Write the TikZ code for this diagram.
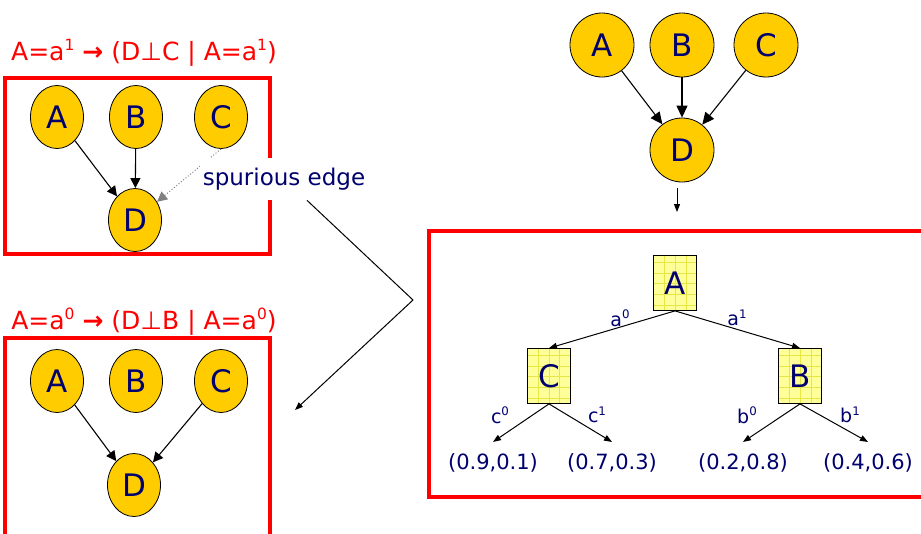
\documentclass[tikz,border=0pt]{standalone}
\usepackage{fontspec}
\setmainfont{DejaVu Sans}
\usetikzlibrary{shapes.geometric,arrows.meta,positioning,calc}
\definecolor{NodeGold}{RGB}{255,204,0}
\definecolor{LeafYellow}{RGB}{255,255,153}
\definecolor{GridYellow}{RGB}{230,230,70}
\definecolor{TextNavy}{RGB}{0,0,110}
\definecolor{BoxRed}{RGB}{255,0,0}
\newcommand{\supr}[1]{\raisebox{0.4em}{\scalebox{0.62}{#1}}}

\tikzset{
  bnnode/.style={ellipse, draw=black, fill=NodeGold, line width=0.8pt, inner sep=0pt,
    minimum width=53pt, minimum height=63pt, text=TextNavy, font=\fontsize{31}{31}\selectfont},
  bigcirc/.style={circle, draw=black, fill=NodeGold, line width=0.8pt, inner sep=0pt,
    minimum size=64pt, text=TextNavy, font=\fontsize{31}{31}\selectfont},
  treebox/.style={rectangle, draw=black, fill=LeafYellow, line width=0.8pt, inner sep=0pt,
    minimum width=43pt, minimum height=55pt, text=TextNavy, font=\fontsize{31}{31}\selectfont,
    path picture={\draw[GridYellow, line width=0.5pt] (path picture bounding box.south west)
      grid[step=10.75pt] (path picture bounding box.north east);}},
  leaf/.style={text=TextNavy, font=\fontsize{21}{21}\selectfont, inner xsep=2pt, inner ysep=11.5pt},
  branch/.style={text=TextNavy, font=\fontsize{19}{19}\selectfont, inner sep=0pt},
  ctxtitle/.style={text=BoxRed, font=\fontsize{25}{25}\selectfont},
  redbox/.style={draw=BoxRed, line width=3.5pt},
  dep/.style={line width=1.1pt, -{Triangle[length=10pt,width=10pt]}},
  bigdep/.style={line width=1.1pt, -{Triangle[length=12pt,width=11pt]}},
  smalldep/.style={line width=1pt, -{Triangle[length=8pt,width=6pt]}}
}

\begin{document}
\begin{tikzpicture}[x=1pt, y=-1pt]
  \useasboundingbox (0,0) rectangle (921,533);
  \clip (0,0) rectangle (921,533);

  % Context A=a^1 (top left)
  \node[ctxtitle] (title1) at (144,53) {A=a\supr{1} {\bfseries →} (D⊥C | A=a\supr{1})};
  \draw[redbox] (5,78) rectangle (270,254);
  \node[bnnode] (tlA) at (57,117) {A};
  \node[bnnode] (tlB) at (136,117) {B};
  \node[bnnode] (tlC) at (221,117) {C};
  \node[bnnode] (tlD) at (135,220) {D};
  \draw[dep] (tlA) -- (tlD);
  \draw[dep] (tlB) -- (tlD);
  \draw[gray, dotted, line width=1pt, -{Triangle[length=10pt,width=10pt]}] (tlC.south) -- (tlD);

  % Spurious edge label
  \node[fill=white, text=TextNavy, font=\fontsize{23}{23}\selectfont, inner xsep=3pt, inner ysep=10pt]
    (spur) at (284,179) {spurious edge};

  % Context A=a^0 (bottom left)
  \node[ctxtitle] (title0) at (144,322) {A=a\supr{0} {\bfseries →} (D⊥B | A=a\supr{0})};
  \draw[redbox] (5,338) rectangle (270,545);
  \node[bnnode] (blA) at (57,381) {A};
  \node[bnnode] (blB) at (136,381) {B};
  \node[bnnode] (blC) at (221,381) {C};
  \node[bnnode] (blD) at (134,485) {D};
  \draw[dep] (blA) -- (blD);
  \draw[dep] (blC) -- (blD);

  % Connector from label to bottom context
  \coordinate (bend) at (413,300);
  \coordinate (spurend) at (295,410);
  \draw[line width=1pt, -{Triangle[length=8pt,width=6pt]}] ([xshift=23pt]spur.south) -- (bend) -- (spurend);

  % Full network (top right)
  \node[bigcirc] (trA) at (602,45) {A};
  \node[bigcirc] (trB) at (682,45) {B};
  \node[bigcirc] (trC) at (766,45) {C};
  \node[bigcirc] (trD) at (682,150) {D};
  \draw[bigdep] (trA) -- (trD);
  \draw[bigdep] (trB) -- (trD);
  \draw[bigdep] (trC) -- (trD);
  \coordinate (down) at (677,212);
  \draw[smalldep] ([shift={(-5,6)}]trD.south) -- (down);

  % Tree CPD box
  \draw[redbox] (429,231) rectangle (940,497);
  \node[treebox] (tA) at (675,283) {A};
  \node[treebox] (tC) at (549,376) {C};
  \node[treebox] (tB) at (800,376) {B};
  \draw[smalldep] (tA.south) -- (tC.north);
  \draw[smalldep] (tA.south) -- (tB.north);
  \node[branch] (ba0) at (620,318) {a\supr{0}};
  \node[branch] (ba1) at (737,318) {a\supr{1}};

  % Leaves
  \node[leaf] (l1) at (493,463) {(0.9,0.1)};
  \node[leaf] (l2) at (612,463) {(0.7,0.3)};
  \node[leaf] (l3) at (743,463) {(0.2,0.8)};
  \node[leaf] (l4) at (868,463) {(0.4,0.6)};
  \draw[smalldep] (tC.south) -- (l1.north);
  \draw[smalldep] (tC.south) -- (l2.north);
  \draw[smalldep] (tB.south) -- (l3.north);
  \draw[smalldep] (tB.south) -- (l4.north);
  \node[branch] (bc0) at (500,415) {c\supr{0}};
  \node[branch] (bc1) at (597,415) {c\supr{1}};
  \node[branch] (bb0) at (747,415) {b\supr{0}};
  \node[branch] (bb1) at (850,415) {b\supr{1}};
\end{tikzpicture}
\end{document}
